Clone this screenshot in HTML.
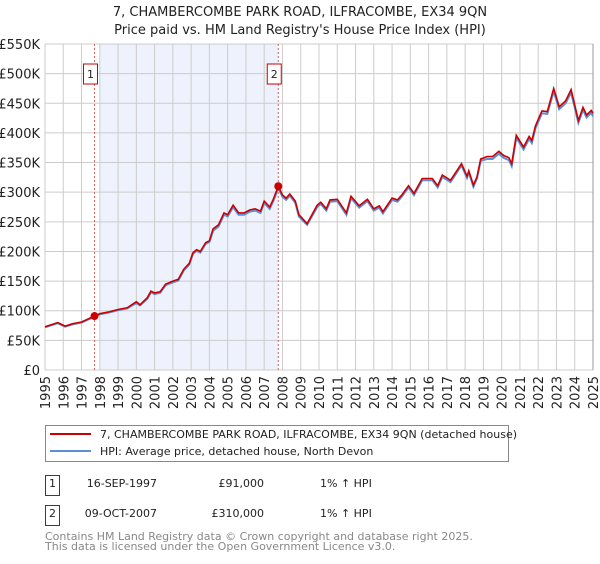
<!DOCTYPE html>
<html><head><meta charset="utf-8"><style>
body{margin:0;background:#fff;font-family:"DejaVu Sans","Liberation Sans",sans-serif;}
svg text{font-family:"DejaVu Sans","Liberation Sans",sans-serif;}
</style></head><body>
<svg id="c" width="600" height="560" xmlns="http://www.w3.org/2000/svg">
<text x="300" y="16" text-anchor="middle" font-size="13" fill="#222">7, CHAMBERCOMBE PARK ROAD, ILFRACOMBE, EX34 9QN</text>
<text x="300" y="34" text-anchor="middle" font-size="13" fill="#222">Price paid vs. HM Land Registry's House Price Index (HPI)</text>
<g id="plot"></g>
<rect x="45.5" y="425.5" width="463" height="36" fill="#fff" stroke="#888"/>
<line x1="50" y1="434" x2="91" y2="434" stroke="#cc0000" stroke-width="2"/>
<text x="100" y="438" font-size="11" fill="#222">7, CHAMBERCOMBE PARK ROAD, ILFRACOMBE, EX34 9QN (detached house)</text>
<line x1="50" y1="451" x2="91" y2="451" stroke="#5b8fd6" stroke-width="2"/>
<text x="100" y="455" font-size="11" fill="#222">HPI: Average price, detached house, North Devon</text>
<g font-size="11" fill="#222">
<rect x="45.5" y="475.5" width="14" height="20" fill="#fff" stroke="#cc0000"/>
<text x="52.5" y="487" text-anchor="middle">1</text>
<text x="157" y="487" text-anchor="end">16-SEP-1997</text>
<text x="264" y="487" text-anchor="end">£91,000</text>
<text x="320" y="487">1% ↑ HPI</text></g>
<g font-size="11" fill="#222">
<rect x="45.5" y="505.5" width="14" height="20" fill="#fff" stroke="#cc0000"/>
<text x="52.5" y="517" text-anchor="middle">2</text>
<text x="157" y="517" text-anchor="end">09-OCT-2007</text>
<text x="264" y="517" text-anchor="end">£310,000</text>
<text x="320" y="517">1% ↑ HPI</text></g>
<text x="45" y="540" font-size="11" fill="#888">Contains HM Land Registry data © Crown copyright and database right 2025.</text>
<text x="45" y="550" font-size="11" fill="#888">This data is licensed under the Open Government Licence v3.0.</text>
</svg>
<script>
const yTicks=[0,50,100,150,200,250,300,350,400,450,500,550];
const yLabels=["£0","£50K","£100K","£150K","£200K","£250K","£300K","£350K","£400K","£450K","£500K","£550K"];
const xYears=[1995,1996,1997,1998,1999,2000,2001,2002,2003,2004,2005,2006,2007,2008,2009,2010,2011,2012,2013,2014,2015,2016,2017,2018,2019,2020,2021,2022,2023,2024,2025];
const times=[1995,1995.7,1996.1,1996.5,1997,1997.71,1998,1998.5,1999,1999.5,2000,2000.2,2000.6,2000.8,2001,2001.3,2001.6,2002,2002.3,2002.6,2002.9,2003.1,2003.3,2003.5,2003.8,2004,2004.2,2004.5,2004.8,2005,2005.3,2005.6,2005.9,2006.2,2006.5,2006.8,2007,2007.3,2007.5,2007.77,2008,2008.2,2008.4,2008.7,2008.9,2009.35,2009.9,2010.1,2010.4,2010.6,2011,2011.5,2011.75,2012.2,2012.65,2013,2013.3,2013.5,2014,2014.3,2014.55,2014.9,2015.2,2015.65,2016.2,2016.5,2016.75,2017.2,2017.8,2018.1,2018.2,2018.45,2018.65,2018.85,2019.2,2019.5,2019.85,2020.1,2020.4,2020.55,2020.8,2021.2,2021.5,2021.65,2021.85,2022.2,2022.5,2022.85,2023.15,2023.5,2023.8,2024.2,2024.45,2024.65,2024.9,2025];
const priceSeries=[73,80,74,78,81,91,95,98,102,105,115,110,122,133,130,132,145,150,153,170,180,198,203,200,215,218,238,245,265,262,278,265,265,270,272,268,285,275,288,310,295,290,297,285,262,247,278,283,272,287,288,265,293,277,288,272,277,267,290,287,296,311,298,323,323,311,329,320,348,327,336,312,326,356,360,360,369,362,358,348,396,376,394,387,412,437,436,475,444,454,473,421,443,430,438,433];
const hpiSeries=[72,79,73,77,80,90,94,97,101,104,113,109,120,131,128,130,143,148,151,168,178,196,201,198,213,216,235,242,262,259,275,262,262,267,269,265,282,272,285,307,292,287,294,282,259,245,275,280,269,284,285,262,290,274,285,269,274,264,287,284,293,308,295,320,320,308,326,317,345,324,333,309,323,353,356,356,365,358,354,344,392,372,390,383,408,433,432,470,440,450,468,417,439,426,434,428];
const sales=[[1997.71,91],[2007.77,310]];
const ns="http://www.w3.org/2000/svg";
const X0=45,X1=593,Y0=370,Y1=44;
const xs=t=>X0+(t-1995)/30*(X1-X0);
const ys=v=>Y0-v/550*(Y0-Y1);
const g=document.getElementById('plot');
function mk(tag,at){const e=document.createElementNS(ns,tag);for(const k in at)e.setAttribute(k,at[k]);g.appendChild(e);return e;}
const shade=mk('rect',{x:xs(1998),y:Y1,width:xs(sales[1][0])-xs(1998),height:Y0-Y1,fill:'#eef2fc'});


yTicks.forEach((v,i)=>{
 const l=mk('line',{x1:X0,x2:X1,y1:ys(v),y2:ys(v),stroke:'#ccc'});
 
 
 const t=mk('text',{x:40,y:ys(v)+5,'text-anchor':'end','font-size':'13',fill:'#222'});
 t.textContent=yLabels[i];
 
 
});
xYears.forEach(y=>{
 const l=mk('line',{x1:xs(y),x2:xs(y),y1:Y1,y2:Y0,stroke:'#ccc'});
 
 
 const t=mk('text',{x:0,y:0,'text-anchor':'end','font-size':'13',fill:'#222',transform:`translate(${xs(y)+5},376) rotate(-90)`});
 t.textContent=y;
 
 
});
const ax=mk('line',{x1:X1,x2:X1,y1:Y1,y2:Y0,stroke:'#999'});


sales.forEach((s,i)=>{
 const l=mk('line',{x1:xs(s[0]),x2:xs(s[0]),y1:Y1,y2:Y0,stroke:'#e06060','stroke-dasharray':'2,2'});
 
 
 const r=mk('rect',{x:xs(s[0])-11,y:64,width:14,height:20,fill:'#fff',stroke:'#cc0000'});
 
 
 const t=mk('text',{x:xs(s[0])-4,y:78,'text-anchor':'middle','font-size':'11',fill:'#222'});
 t.textContent=String(i+1);
 
 
});
const pts=a=>a.map((v,i)=>xs(times[i]).toFixed(1)+','+ys(v).toFixed(1)).join(' ');
const hl=mk('polyline',{points:pts(hpiSeries),fill:'none',stroke:'#5b8fd6','stroke-width':2});


const pl=mk('polyline',{points:pts(priceSeries),fill:'none',stroke:'#cc0000','stroke-width':1.6});


sales.forEach(s=>{
 const c=mk('circle',{cx:xs(s[0]),cy:ys(s[1]),r:4,fill:'#cc0000'});
 
 
});
</script>
</body></html>
